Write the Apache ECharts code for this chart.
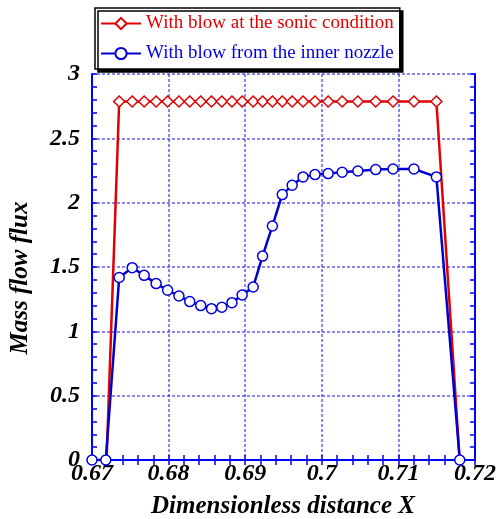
<!DOCTYPE html>
<html>
<head>
<meta charset="utf-8">
<script src="https://cdn.jsdelivr.net/npm/echarts@6/dist/echarts.min.js"></script>
<style>
  html, body { margin: 0; padding: 0; background: #fff; }
  #chart { width: 499px; height: 519px; }
</style>
</head>
<body>
<div id="chart"></div>
<script>
// x positions of the computed points
const xInner = [0.67, 0.6718, 0.67355, 0.67525, 0.67681, 0.67837, 0.67987, 0.68135, 0.68276,
  0.68419, 0.6856, 0.68695, 0.68827, 0.6896, 0.69104, 0.69227, 0.69355, 0.69484, 0.69613,
  0.69755, 0.69911, 0.70083, 0.70266, 0.70471, 0.70704, 0.7093, 0.71203, 0.71496, 0.71801];
const innerFlux = [0, 0, 1.418, 1.495, 1.435, 1.371, 1.319, 1.275, 1.231,
  1.2, 1.176, 1.187, 1.223, 1.282, 1.345, 1.585, 1.819, 2.063, 2.135,
  2.2, 2.218, 2.226, 2.236, 2.246, 2.257, 2.262, 2.262, 2.2, 0];

const xSonic = [0.6719, 0.67355, 0.67525, 0.67681, 0.67837, 0.67987, 0.68135, 0.68276,
  0.68419, 0.6856, 0.68695, 0.68827, 0.6896, 0.69104, 0.69227, 0.69355, 0.69484, 0.69613,
  0.69755, 0.69911, 0.70083, 0.70266, 0.70471, 0.70704, 0.7093, 0.71203, 0.71496, 0.718];
const sonicFlux = [0, 2.786, 2.786, 2.786, 2.786, 2.786, 2.786, 2.786,
  2.786, 2.786, 2.786, 2.786, 2.786, 2.786, 2.786, 2.786, 2.786, 2.786,
  2.786, 2.786, 2.786, 2.786, 2.786, 2.786, 2.786, 2.786, 2.786, 0];

const sonicName = 'With blow at the sonic condition';
const innerName = 'With blow from the inner nozzle';

const axisBlue = '#0000ff';
const gridStyle = { color: 'rgba(40, 40, 230, 0.75)', type: [3, 2], width: 1.5 };
const tickFont = {
  fontFamily: 'Liberation Serif',
  fontWeight: 'bold',
  fontStyle: 'italic',
  fontSize: 24,
  color: '#000',
};
const titleFont = {
  fontFamily: 'Liberation Serif',
  fontWeight: 'bold',
  fontStyle: 'italic',
  fill: '#000',
  align: 'center',
  verticalAlign: 'middle',
};

const chart = echarts.init(document.getElementById('chart'));

const frameAxis = {
  axisLine: { show: true, lineStyle: { color: axisBlue, width: 2 } },
  axisTick: { show: true, inside: true, length: 5, lineStyle: { color: axisBlue, width: 1.5 } },
  minorTick: { show: true, splitNumber: 5, length: 5, lineStyle: { color: axisBlue, width: 1.5 } },
};

chart.setOption({
  animation: false,
  grid: { left: 92, right: 23, top: 74, bottom: 59 },
  legend: {
    orient: 'vertical',
    left: 95,
    top: 8,
    padding: [6, 6, 6, 5],
    itemGap: 11,
    itemWidth: 40,
    itemHeight: 14,
    backgroundColor: '#fff',
    borderColor: '#000',
    borderWidth: 1.5,
    borderRadius: 0,
    shadowColor: '#000',
    shadowBlur: 0,
    shadowOffsetX: 3,
    shadowOffsetY: 3,
    textStyle: { fontFamily: 'Liberation Serif', fontSize: 19 },
    data: [
      { name: sonicName, textStyle: { color: '#e00000' } },
      { name: innerName, textStyle: { color: '#0000dd' } },
    ],
  },
  xAxis: [
    {
      type: 'value',
      min: 0.67,
      max: 0.72,
      interval: 0.01,
      ...frameAxis,
      axisLabel: {
        ...tickFont,
        margin: 2,
        formatter: (v) => String(parseFloat(v.toFixed(2))),
      },
      splitLine: { show: true, lineStyle: gridStyle },
    },
    {
      type: 'value',
      position: 'top',
      min: 0.67,
      max: 0.72,
      interval: 0.01,
      ...frameAxis,
      axisLabel: { show: false },
      splitLine: { show: false },
    },
  ],
  yAxis: [
    {
      type: 'value',
      min: 0,
      max: 3,
      interval: 0.5,
      ...frameAxis,
      axisLabel: { ...tickFont, margin: 12, padding: [0, 0, 6, 0] },
      splitLine: { show: true, lineStyle: gridStyle },
    },
    {
      type: 'value',
      position: 'right',
      min: 0,
      max: 3,
      interval: 0.5,
      ...frameAxis,
      axisLabel: { show: false },
      splitLine: { show: false },
    },
  ],
  graphic: [
    {
      type: 'text',
      x: 283,
      y: 507,
      style: { ...titleFont, text: 'Dimensionless distance X', fontSize: 25 },
    },
    {
      type: 'text',
      x: 21,
      y: 278,
      rotation: Math.PI / 2,
      style: { ...titleFont, text: 'Mass flow flux', fontSize: 25 },
    },
  ],
  series: [
    {
      name: sonicName,
      type: 'line',
      data: xSonic.map((x, i) => {
        const p = { value: [x, sonicFlux[i]] };
        if (sonicFlux[i] === 0) p.symbol = 'none';
        return p;
      }),
      symbol: 'diamond',
      symbolSize: 11,
      showAllSymbol: true,
      lineStyle: { color: '#e00000', width: 2.5 },
      itemStyle: { color: '#fff', borderColor: '#e00000', borderWidth: 1.5 },
      z: 2,
    },
    {
      name: innerName,
      type: 'line',
      data: xInner.map((x, i) => [x, innerFlux[i]]),
      symbol: 'circle',
      symbolSize: 10,
      showAllSymbol: true,
      lineStyle: { color: '#0000cc', width: 2.5 },
      itemStyle: { color: '#fff', borderColor: '#0000dd', borderWidth: 1.5 },
      z: 3,
    },
  ],
});
</script>
</body>
</html>
